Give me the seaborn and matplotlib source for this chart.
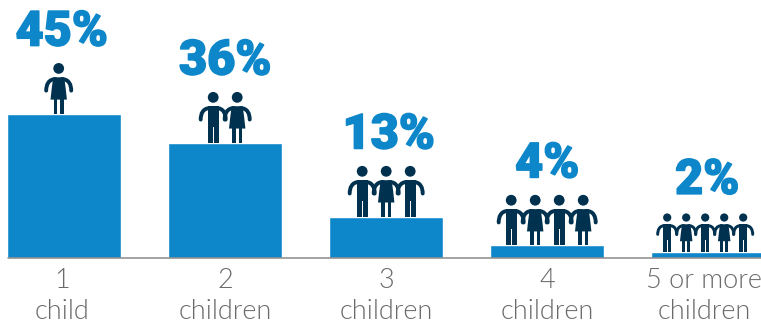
import matplotlib
matplotlib.use("Agg")
import matplotlib.pyplot as plt
from matplotlib.patches import Circle, PathPatch, Polygon, Rectangle
from matplotlib.path import Path
from matplotlib.patheffects import withStroke
from matplotlib.transforms import Affine2D
import pandas as pd
import seaborn as sns

categories = ["1\nchild", "2\nchildren", "3\nchildren", "4\nchildren", "5 or more\nchildren"]
shares = [45, 36, 13, 4, 2]
value_labels = ["45%", "36%", "13%", "4%", "2%"]
figures_shown = [1, 2, 3, 4, 5]

BLUE = "#0d87c9"
NAVY = "#00324f"
GREY = "#6a6a6a"
W, H = 761, 325
STEP = 161
PX_PER_PCT = 3.215
FIRST_CENTRE = 64.2
BASE_Y = 66.7

sns.set_theme(style="white")
plt.rcParams["font.family"] = ["Lato", "DejaVu Sans"]

fig = plt.figure(figsize=(W / 100, H / 100), dpi=100)
ax = fig.add_axes([0, 0, 1, 1])
df = pd.DataFrame({"kids": categories, "share": shares})
sns.barplot(data=df, x="kids", y="share", color=BLUE, saturation=1, width=114 / 161, ax=ax)
ax.set_xlim(-FIRST_CENTRE / STEP, (W - FIRST_CENTRE) / STEP)
ax.set_ylim(-BASE_Y / PX_PER_PCT, (H - BASE_Y) / PX_PER_PCT)
ax.set_xlabel("")
ax.set_ylabel("")
ax.set_yticks([])
ax.tick_params(axis="x", length=0, pad=0)
for s in ax.spines.values():
    s.set_visible(False)
ax.axhline(0, xmin=8 / W, color="#8a8a8a", lw=1.1, zorder=1)
ax.set_xticks(range(len(categories)))
ax.set_xticklabels([])

# Two-line category captions under the baseline
for i, c in enumerate(categories):
    dx = {0: -2, 4: -4}.get(i, 0)
    ax.annotate(c, (i, 0), xytext=(dx * 0.72, -7), textcoords="offset points",
                ha="center", va="top", fontsize=19.5, color=GREY,
                fontweight=300, linespacing=1.3, annotation_clip=False)

# Big percentage labels above each bar
for i, (v, t) in enumerate(zip(shares, value_labels)):
    gap = 58 if i == 4 else 68
    dx = {0: -2.5, 2: 2.5, 4: -1}.get(i, 0)
    ax.annotate(t, (i, v), xytext=(dx * 0.72, gap * 0.72), textcoords="offset points",
                ha="center", va="baseline", fontsize=35, color=BLUE,
                family="Roboto", fontweight=900,
                path_effects=[withStroke(linewidth=1.1, foreground=BLUE)])


def draw_person(x_px, y_px, scale, female):
    """One pictogram child, feet at (x_px, y_px) in display pixels, 51 px tall at scale 1."""
    tr = Affine2D().scale(scale).translate(x_px, y_px)

    def add(p):
        p.set_transform(tr)
        p.set_clip_on(False)
        fig.add_artist(p)

    kw = dict(facecolor=NAVY, edgecolor="none")
    add(Circle((0, 45.2), 5.4, **kw))
    arm_w = 3.9 * scale * 0.72
    for sgn in (-1, 1):
        verts = [(sgn * 3, 34.5), (sgn * 10.5, 34.5), (sgn * 12.5, 28.5), (sgn * 12.5, 23)]
        codes = [Path.MOVETO, Path.CURVE4, Path.CURVE4, Path.CURVE4]
        add(PathPatch(Path(verts, codes), fill=False, edgecolor=NAVY, lw=arm_w, capstyle="round"))
    if female:
        add(Polygon([(-5.5, 36.3), (5.5, 36.3), (7, 25), (8.2, 14), (-8.2, 14), (-7, 25)], **kw))
        for sgn in (-1, 1):
            add(Rectangle((sgn * 3.3 - 1.9, 0), 3.8, 15, **kw))
    else:
        add(Polygon([(-5.5, 36.3), (5.5, 36.3), (5.5, 16), (-5.5, 16)], **kw))
        for sgn in (-1, 1):
            add(Rectangle((sgn * 3 - 2.4, 0), 4.8, 18, **kw))


# Row of pictogram children standing on each bar, one more per category
fig.canvas.draw()
for i, (n, v) in enumerate(zip(figures_shown, shares)):
    cx, top = ax.transData.transform((i, v))
    cx -= {0: 5.5, 4: 3}.get(i, 0)
    scale, spacing = (0.76, 19) if n == 5 else (1.0, 24)
    for k in range(n):
        x = cx + (k - (n - 1) / 2) * spacing
        draw_person(x, top, scale, female=(k % 2 == 1) or n == 1)

fig.savefig("out.png", dpi=100)
